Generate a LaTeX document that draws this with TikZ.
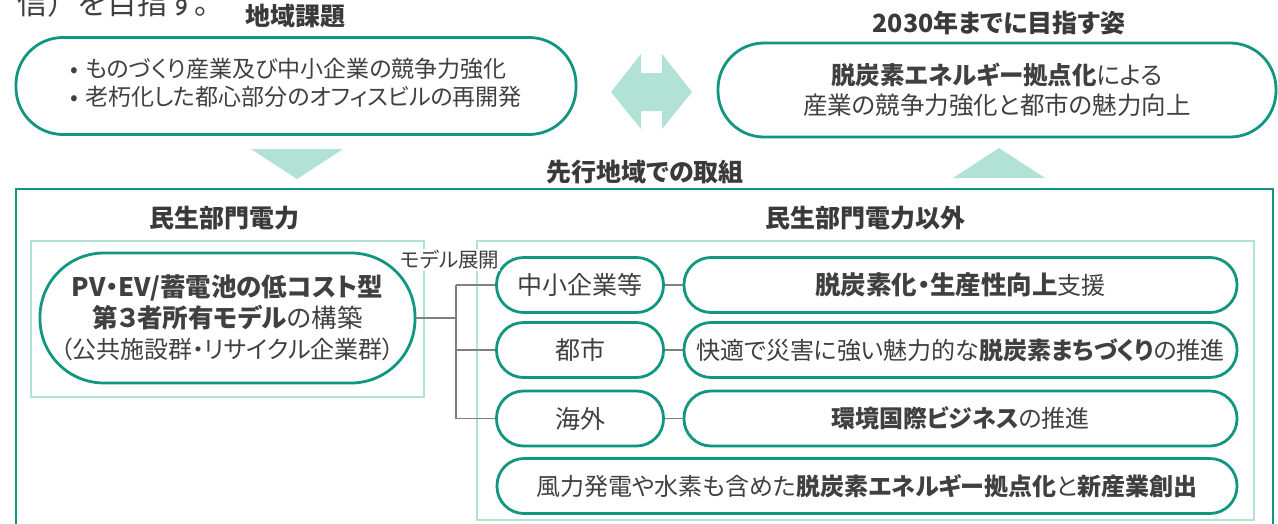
\documentclass[tikz,border=0pt]{standalone}
\usepackage{fontspec}
\setmainfont{Noto Sans CJK JP}[RawFeature=+palt]
\newfontfamily\jpfw{Noto Sans CJK JP}
\definecolor{teal}{RGB}{17,150,128}
\definecolor{lightteal}{RGB}{178,226,214}
\definecolor{txt}{RGB}{64,64,64}
\definecolor{ttl}{RGB}{58,58,58}
\definecolor{conngray}{RGB}{128,128,128}
\newcommand{\bul}{\makebox[15pt][l]{•}}
\tikzset{
  stad/.style={draw=teal, line width=2.8pt, fill=white, text=txt, rounded corners=#1, inner sep=0pt, align=center},
  lbox/.style={draw=lightteal, line width=2.2pt},
  obox/.style={draw=teal, line width=2pt},
  shapefill/.style={fill=lightteal, draw=none},
  ttlstyle/.style={text=ttl, font=\fontsize{25}{28}\selectfont\bfseries, inner sep=0pt},
  conn/.style={draw=conngray, line width=1.6pt},
  body/.style={font=\fontsize{24}{30}\selectfont}
}
\begin{document}
\begin{tikzpicture}[x=1pt,y=-1pt]
\useasboundingbox (0,0) rectangle (1278,523);
\clip (0,0) rectangle (1278,523);
\fill[white] (0,0) rectangle (1278,523);

% clipped heading remnant
\node[anchor=base west, inner sep=0pt, text=txt, font=\jpfw\fontsize{30}{33}\selectfont] (rem) at (17,14) {信）を目指す。};

% titles
\node[ttlstyle] (t1) at (295,16) {地域課題};
\node[ttlstyle] (t2) at (999,23) {2030年までに目指す姿};
\node[ttlstyle] (t3) at (645,172) {先行地域での取組};
\node[ttlstyle] (t4) at (224,218) {民生部門電力};
\node[ttlstyle] (t5) at (865,218) {民生部門電力以外};

% top boxes
\node[stad=47pt, minimum width=560pt, minimum height=97pt, font=\fontsize{23}{28.5}\selectfont] (issue) at (296,86)
  {\begin{tabular}{@{}l@{}}\bul ものづくり産業及び中小企業の競争力強化\\\bul 老朽化した都心部分のオフィスビルの再開発\end{tabular}};
\node[stad=46pt, minimum width=558pt, minimum height=94pt, font=\fontsize{24.5}{30}\selectfont] (goal) at (997,90)
  {\textbf{脱炭素エネルギー拠点化}による\\産業の競争力強化と都市の魅力向上};

% double arrow
\path[shapefill] (611,92) -- (641,54) -- (641,73) -- (662,73) -- (662,54) -- (692,92)
  -- (662,129) -- (662,111) -- (641,111) -- (641,129) -- cycle;
% triangles
\path[shapefill] (251,149) -- (343,149) -- (297,179) -- cycle;
\path[shapefill] (953,178) -- (1045,178) -- (999,148) -- cycle;

% outer frame
\draw[obox] (16,189) rectangle (1273,545);
% light boxes
\draw[lbox] (31,241) rectangle (424,397);
\draw[lbox] (477,241) rectangle (1254,520);

% PV model
\node[stad=64pt, minimum width=375pt, minimum height=130pt, font=\fontsize{24}{31}\selectfont] (pv) at (227.5,318)
  {{\fontsize{25.5}{31}\selectfont\textbf{PV・EV/蓄電池の低コスト型}}\\{\fontsize{25.5}{31}\selectfont\textbf{第３者所有モデル}の構築}\\（公共施設群・リサイクル企業群）};

% small stadiums
\node[stad=27pt, minimum width=167pt, minimum height=55pt, font=\fontsize{25}{30}\selectfont] (s1) at (580,285) {中小企業等};
\node[stad=27pt, minimum width=167pt, minimum height=55pt, font=\fontsize{25}{30}\selectfont] (s2) at (580,350) {都市};
\node[stad=27pt, minimum width=167pt, minimum height=55pt, font=\fontsize{25}{30}\selectfont] (s3) at (580,418.5) {海外};

% large stadiums
\node[stad=27pt, minimum width=553pt, minimum height=55pt, body] (b1) at (960.5,285) {{\fontsize{25.5}{30}\selectfont\textbf{脱炭素化・生産性向上}}支援};
\node[stad=27pt, minimum width=553pt, minimum height=55pt, body] (b2) at (960.5,350) {快適で災害に強い魅力的な\textbf{脱炭素まちづくり}の推進};
\node[stad=27pt, minimum width=553pt, minimum height=55pt, body] (b3) at (960.5,418.5) {\textbf{環境国際ビジネス}の推進};
\node[stad=27pt, minimum width=740pt, minimum height=55pt, body] (b4) at (867,486) {風力発電や水素も含めた\textbf{脱炭素エネルギー拠点化}と\textbf{新産業創出}};

% connectors
\draw[conn] (pv.east) -- (456,318) coordinate (j);
\draw[conn] (j |- s1.west) -- (j |- s3.west);
\draw[conn] (j |- s1.west) -- (s1.west);
\draw[conn] (j |- s2.west) -- (s2.west);
\draw[conn] (j |- s3.west) -- (s3.west);
\draw[conn] (s1.east) -- (b1.west);
\draw[conn] (s2.east) -- (b2.west);
\draw[conn] (s3.east) -- (b3.west);

% label
\node[fill=white, inner sep=1pt, text=txt, font=\fontsize{20.5}{23}\selectfont] (lab) at (450,260) {モデル展開};
\end{tikzpicture}
\end{document}
